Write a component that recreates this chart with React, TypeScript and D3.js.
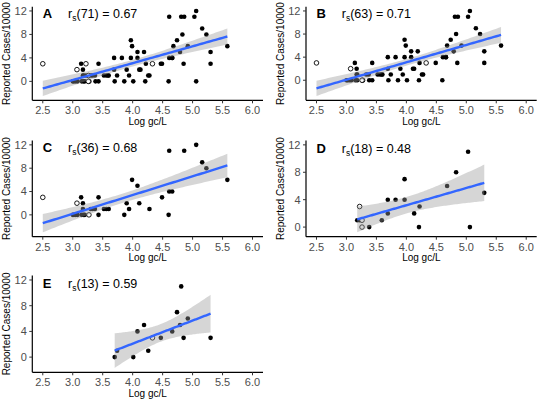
import React from 'react';
import * as d3 from 'd3';

type Pt = [number, number, number]; // [log gc/L, reported cases/10000, hollow flag]

// Panel C points
const pointsC: Pt[] = [
  [2.5, 3, 1], [3.07, 2, 1], [3.27, 0, 1],
  [3.0, 0, 0], [3.14, 3, 0], [3.17, 2, 0], [3.02, 0, 0], [3.05, 0, 0], [3.08, 0, 0], [3.15, 0, 0], [3.18, 0, 0], [3.2, 0, 0],
  [3.17, 1, 0], [3.3, 1, 0], [3.33, 1, 0], [3.37, 1, 0], [3.43, 3, 0], [3.43, 0, 0], [3.52, 1, 0], [3.56, 1, 0], [3.6, 1, 0],
  [3.86, 0, 0], [3.9, 2, 0], [3.94, 1, 0], [3.99, 6, 0], [4.08, 5, 0], [4.11, 2, 0], [4.28, 1, 0],
  [4.49, 3, 0], [4.6, 0, 0], [4.61, 11, 0], [4.61, 4, 0], [4.66, 4, 0], [4.86, 11, 0], [5.06, 12, 0], [5.16, 9, 0], [5.23, 8, 0], [5.58, 6, 0],
];

// Panel D points
const pointsD: Pt[] = [
  [3.18, 1, 0], [3.22, 1, 0], [3.22, 3, 1], [3.26, 1, 1], [3.26, 0, 1], [3.38, 0, 0], [3.59, 1, 0], [3.69, 4, 0], [3.69, 2, 0],
  [3.82, 4, 0], [3.97, 7, 0], [3.97, 4, 0], [4.13, 2, 0], [4.21, 0, 0], [4.22, 3, 0], [4.68, 6, 0], [4.83, 8, 0], [5.03, 11, 0],
  [5.06, 0, 0], [5.3, 5, 0],
];

// Panel E points
const pointsE: Pt[] = [
  [3.7, 0, 0], [3.74, 1, 0], [4.01, 0, 0], [4.08, 4, 0], [4.19, 5, 0], [4.26, 1, 0], [4.33, 3, 1], [4.47, 3, 0],
  [4.66, 4, 0], [4.74, 7, 0], [4.79, 5, 0], [4.81, 11, 0], [4.85, 3, 0], [4.92, 6, 0], [5.3, 3, 0],
];

// Panel A shows all sites (C, D and E together)
const pointsA: Pt[] = [...pointsC, ...pointsD, ...pointsE];

// Panel B points
const pointsB: Pt[] = [
  [2.5, 3, 1], [3.07, 2, 1], [3.27, 0, 1],
  [3.0, 0, 0], [3.14, 3, 0], [3.17, 2, 0], [3.02, 0, 0], [3.05, 0, 0], [3.08, 0, 0], [3.15, 0, 0], [3.18, 0, 0],
  [3.17, 1, 0], [3.33, 1, 0], [3.37, 1, 0], [3.43, 3, 0], [3.43, 0, 0], [3.52, 1, 0], [3.56, 1, 0], [3.6, 1, 0],
  [3.86, 0, 0], [3.9, 2, 0], [3.94, 1, 0], [3.99, 6, 0], [4.08, 5, 0], [4.11, 2, 0], [4.28, 1, 0],
  [4.49, 3, 0], [4.6, 0, 0], [4.61, 4, 0], [4.66, 4, 0], [4.86, 11, 0], [5.06, 12, 0], [5.16, 9, 0], [5.23, 8, 0], [5.58, 6, 0],
  [3.18, 1, 0], [3.26, 0, 1], [3.38, 0, 0], [3.59, 1, 0], [3.69, 4, 0], [3.69, 2, 0],
  [3.82, 4, 0], [3.97, 7, 0], [3.97, 4, 0], [4.13, 2, 0], [4.21, 0, 0], [4.22, 3, 0], [4.68, 6, 0], [4.83, 8, 0], [5.03, 11, 0], [5.3, 5, 0],
  [3.7, 0, 0], [3.74, 1, 0], [4.01, 0, 0], [4.08, 4, 0], [4.19, 5, 0], [4.26, 1, 0], [4.33, 3, 1],
  [4.66, 4, 0], [4.74, 7, 0], [4.79, 5, 0], [4.81, 11, 0], [4.85, 3, 0], [4.92, 6, 0], [5.3, 3, 0],
];

const panelTags = ['A', 'B', 'C', 'D', 'E'];
const panelDf = [71, 63, 36, 18, 13];
const panelRho = ['0.67', '0.71', '0.68', '0.48', '0.59'];
const panelTCrit = [1.9939, 1.9983, 2.0281, 2.1009, 2.1604];
const panelData = [pointsA, pointsB, pointsC, pointsD, pointsE];

const xTicks = [2.5, 3.0, 3.5, 4.0, 4.5, 5.0, 5.5, 6.0];
const yTicks = [0, 4, 8, 12];
const xLabel = 'Log gc/L';
const yLabel = 'Reported Cases/10000';

const COLS = [{ l: 32.3, r: 263 }, { l: 306, r: 536.7 }];
const ROWS = [{ t: 6.7, b: 100.3 }, { t: 140.5, b: 236.7 }, { t: 275.6, b: 372.3 }];
const FONT = '"Liberation Sans", Arial, Helvetica, sans-serif';

function fitLm(pts: Pt[], tcrit: number) {
  const n = pts.length;
  const mx = d3.mean(pts, (p) => p[0]) as number;
  const my = d3.mean(pts, (p) => p[1]) as number;
  let sxx = 0, sxy = 0;
  for (const p of pts) { sxx += (p[0] - mx) ** 2; sxy += (p[0] - mx) * (p[1] - my); }
  const b = sxy / sxx;
  const a = my - b * mx;
  let sse = 0;
  for (const p of pts) sse += (p[1] - a - b * p[0]) ** 2;
  const s = Math.sqrt(sse / (n - 2));
  const [x0, x1] = d3.extent(pts, (p) => p[0]) as [number, number];
  return d3.range(80).map((i) => {
    const x = x0 + ((x1 - x0) * i) / 79;
    const y = a + b * x;
    const se = s * Math.sqrt(1 / n + (x - mx) ** 2 / sxx);
    return { x, y, lo: y - tcrit * se, hi: y + tcrit * se };
  });
}

function Panel({ idx, col, row }: { idx: number; col: number; row: number }) {
  const pts = panelData[idx];
  const { l, r } = COLS[col];
  const { t, b } = ROWS[row];
  const fit = fitLm(pts, panelTCrit[idx]);
  const lo = Math.min(0, d3.min(fit, (d) => d.lo) as number, d3.min(pts, (p) => p[1]) as number);
  const hi = Math.max(12, d3.max(fit, (d) => d.hi) as number, d3.max(pts, (p) => p[1]) as number);
  const pad = (hi - lo) * 0.05;
  const x = d3.scaleLinear().domain([2.325, 6.175]).range([l, r]);
  const y = d3.scaleLinear().domain([lo - pad, hi + pad]).range([b, t]);
  const area = d3.area<{ x: number; lo: number; hi: number }>().x((d) => x(d.x)).y0((d) => y(d.lo)).y1((d) => y(d.hi));
  const line = d3.line<{ x: number; y: number }>().x((d) => x(d.x)).y((d) => y(d.y));
  const filled = pts.filter((p) => !p[2]);
  const hollow = pts.filter((p) => p[2]);
  const annY = y(10.8);
  return (
    <g>
      {filled.map((p, i) => (
        <circle key={'f' + i} cx={x(p[0])} cy={y(p[1])} r={2.3} fill="#000" />
      ))}
      {hollow.map((p, i) => (
        <circle key={'h' + i} cx={x(p[0])} cy={y(p[1])} r={2.3} fill="#fff" stroke="#000" strokeWidth={0.9} />
      ))}
      <path d={area(fit) || ''} fill="#999999" fillOpacity={0.4} />
      <path d={line(fit) || ''} fill="none" stroke="#3366FF" strokeWidth={2.4} />
      {/* axes */}
      <line x1={l} x2={l} y1={t} y2={b} stroke="#000" strokeWidth={1.2} />
      <line x1={l} x2={r} y1={b} y2={b} stroke="#000" strokeWidth={1.2} />
      {yTicks.map((v) => (
        <g key={'y' + v}>
          <line x1={l - 3} x2={l} y1={y(v)} y2={y(v)} stroke="#333" strokeWidth={1} />
          <text x={l - 5.5} y={y(v)} dy="0.36em" textAnchor="end" fontSize={11} fill="#4D4D4D" fontFamily={FONT}>
            {v}
          </text>
        </g>
      ))}
      {xTicks.map((v) => (
        <g key={'x' + v}>
          <line x1={x(v)} x2={x(v)} y1={b} y2={b + 3} stroke="#333" strokeWidth={1} />
          <text x={x(v)} y={b + 14} textAnchor="middle" fontSize={11} fill="#4D4D4D" fontFamily={FONT}>
            {d3.format('.1f')(v)}
          </text>
        </g>
      ))}
      <text x={(l + r) / 2} y={b + 24.5} textAnchor="middle" fontSize={10} fill="#000" fontFamily={FONT}>
        {xLabel}
      </text>
      <text
        transform={`translate(${l - 22.5},${(t + b) / 2}) rotate(-90)`}
        textAnchor="middle"
        fontSize={10}
        fill="#000"
        fontFamily={FONT}
      >
        {yLabel}
      </text>
      <text x={x(2.5)} y={annY} fontSize={13} fontWeight="bold" fill="#000" fontFamily={FONT}>
        {panelTags[idx]}
      </text>
      <text x={x(3.5)} y={annY} textAnchor="middle" fontSize={12.5} fill="#000" fontFamily={FONT}>
        <tspan>r</tspan>
        <tspan dy={3} fontSize={8.5}>s</tspan>
        <tspan dy={-3}>{`(${panelDf[idx]}) = ${panelRho[idx]}`}</tspan>
      </text>
    </g>
  );
}

export default function App() {
  const layout = [
    { idx: 0, col: 0, row: 0 },
    { idx: 1, col: 1, row: 0 },
    { idx: 2, col: 0, row: 1 },
    { idx: 3, col: 1, row: 1 },
    { idx: 4, col: 0, row: 2 },
  ];
  return (
    <svg
      width={539}
      height={403}
      viewBox="0 0 539 403"
      style={{ position: 'absolute', left: 0, top: 0, display: 'block', background: '#fff' }}
    >
      <rect width={539} height={403} fill="#fff" />
      {layout.map((p) => (
        <Panel key={p.idx} idx={p.idx} col={p.col} row={p.row} />
      ))}
    </svg>
  );
}
